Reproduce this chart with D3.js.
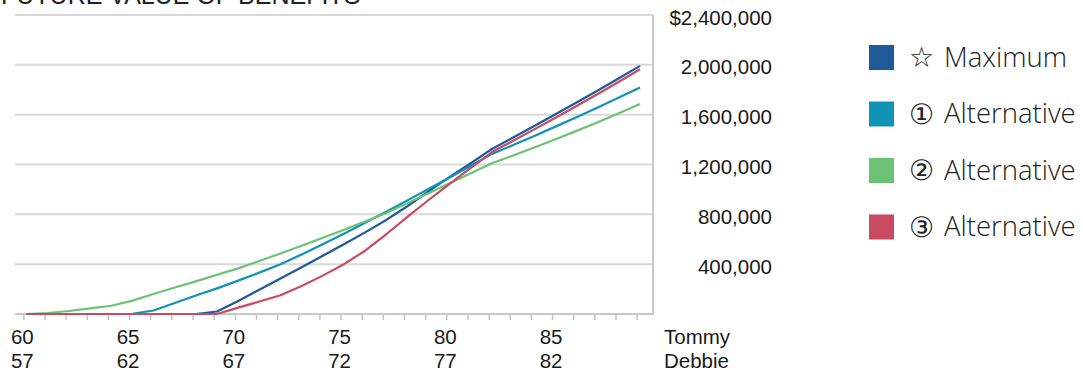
<!DOCTYPE html>
<html>
<head>
<meta charset="utf-8">
<script src="https://cdn.jsdelivr.net/npm/d3@7"></script>
<style>
  body { margin: 0; background: #fff; }
  svg { display: block; }
</style>
</head>
<body>
<div id="chart-area"></div>
<script>
// ages on the axis (Tommy / Debbie)
var tommyAges = [60, 61, 62, 63, 64, 65, 66, 67, 68, 69, 70, 71, 72, 73, 74, 75, 76, 77, 78, 79, 80, 81, 82, 83, 84, 85, 86, 87, 88, 89];
var labelAges = [60, 65, 70, 75, 80, 85];
var ageGap = 3; // Debbie is 3 years younger

var yTicks = [400000, 800000, 1200000, 1600000, 2000000, 2400000];

var seriesNames = ["Maximum", "Alternative", "Alternative", "Alternative"];
var seriesMarks = ["\u2606", "\u2460", "\u2461", "\u2462"];
var seriesColors = ["#1f5b98", "#1093b4", "#6cc273", "#c94a61"];

var maximum = [0, 0, 0, 0, 0, 0, 0, 0, 0, 20000, 105000, 195000, 285000, 375000, 467000, 560000, 655000, 755000, 865000, 985000, 1100000, 1210000, 1325000, 1416000, 1509000, 1603000, 1698000, 1794000, 1892000, 1992000];
var alt1 = [0, 0, 0, 0, 0, 2000, 28000, 88000, 148000, 206000, 268000, 332000, 400000, 478000, 560000, 645000, 732000, 820000, 912000, 1003000, 1095000, 1190000, 1285000, 1356000, 1429000, 1504000, 1580000, 1658000, 1738000, 1819000];
var alt2 = [0, 8000, 24000, 45000, 66000, 107000, 160000, 213000, 262000, 315000, 366000, 425000, 486000, 548000, 612000, 677000, 743000, 810000, 890000, 970000, 1050000, 1130000, 1210000, 1272000, 1336000, 1402000, 1470000, 1540000, 1612000, 1685000];
var alt3 = [0, 0, 0, 0, 0, 0, 0, 0, 0, 0, 51000, 100000, 150000, 225000, 308000, 400000, 508000, 640000, 780000, 915000, 1045000, 1172000, 1300000, 1390000, 1482000, 1575000, 1670000, 1766000, 1864000, 1965000];

var series = [maximum, alt1, alt2, alt3];

// payments counted a couple of months past each birthday
var monthOffset = 0.16;

var width = 1083, height = 373;
var plot = { left: 15, right: 653, top: 15, bottom: 314 };

var svg = d3.select("#chart-area").append("svg")
    .attr("width", width)
    .attr("height", height)
    .style("font-family", "'Liberation Sans', Arial, sans-serif");

var x = d3.scaleLinear()
    .domain([59.608, 89.773])
    .range([plot.left, plot.right]);

var y = d3.scaleLinear()
    .domain([0, 2400000])
    .range([plot.bottom, plot.top]);

// title (cut off at the top, as in the source)
svg.append("text")
    .attr("x", 1)
    .attr("y", 4)
    .attr("font-size", "25px")
    .attr("fill", "#222")
    .text("FUTURE VALUE OF BENEFITS");

// grid lines
svg.append("g").selectAll("line")
    .data(yTicks)
    .enter().append("line")
    .attr("x1", plot.left)
    .attr("x2", plot.right)
    .attr("y1", (d) => y(d))
    .attr("y2", (d) => y(d))
    .attr("stroke", "#d9d9d9")
    .attr("stroke-width", 2);

// y labels on the right
var yFormat = d3.format(",");
svg.append("g").selectAll("text")
    .data(yTicks)
    .enter().append("text")
    .attr("x", 772)
    .attr("y", (d) => y(d) + 9.5)
    .attr("text-anchor", "end")
    .attr("font-size", "20.5px")
    .attr("fill", "#1a1a1a")
    .text((d, i) => (i === yTicks.length - 1 ? "$" : "") + yFormat(d));

// x axis
var xAxisCall = d3.axisBottom(x)
    .tickValues(tommyAges)
    .tickSize(6)
    .tickFormat("");
var xAxisGroup = svg.append("g")
    .attr("transform", "translate(0," + plot.bottom + ")")
    .call(xAxisCall);
xAxisGroup.select(".domain").remove();
xAxisGroup.selectAll(".tick line")
    .attr("stroke", "#c4c4c4")
    .attr("stroke-width", 1.5);

// axis frame: baseline and right edge
svg.append("line")
    .attr("x1", plot.left).attr("x2", plot.right)
    .attr("y1", plot.bottom).attr("y2", plot.bottom)
    .attr("stroke", "#c8c8c8").attr("stroke-width", 2);
svg.append("line")
    .attr("x1", plot.right).attr("x2", plot.right)
    .attr("y1", plot.top).attr("y2", plot.bottom + 1)
    .attr("stroke", "#c8c8c8").attr("stroke-width", 2);

var labels = svg.append("g")
    .attr("font-size", "20.5px")
    .attr("fill", "#1a1a1a")
    .attr("text-anchor", "middle");

labels.selectAll(".tommy")
    .data(labelAges)
    .enter().append("text")
    .attr("class", "tommy")
    .attr("x", (d) => x(d) - 1)
    .attr("y", 344)
    .text((d) => d);

labels.selectAll(".debbie")
    .data(labelAges)
    .enter().append("text")
    .attr("class", "debbie")
    .attr("x", (d) => x(d) - 1)
    .attr("y", 368)
    .text((d) => d - ageGap);

labels.append("text")
    .attr("x", 664).attr("y", 344)
    .attr("text-anchor", "start")
    .text("Tommy");
labels.append("text")
    .attr("x", 664).attr("y", 368)
    .attr("text-anchor", "start")
    .text("Debbie");

// lines
var line = d3.line()
    .x((d, i) => x(tommyAges[i] + monthOffset))
    .y((d) => y(d));

svg.append("g").selectAll("path")
    .data(series)
    .enter().append("path")
    .attr("d", line)
    .attr("fill", "none")
    .attr("stroke", (d, i) => seriesColors[i])
    .attr("stroke-width", 2.2)
    .attr("stroke-linejoin", "round");

// legend
var legend = svg.append("g").selectAll("g")
    .data(seriesNames)
    .enter().append("g")
    .attr("transform", (d, i) => "translate(869," + (45 + i * 56.5) + ")");

legend.append("rect")
    .attr("width", 25)
    .attr("height", 25)
    .attr("fill", (d, i) => seriesColors[i]);

legend.append("text")
    .attr("x", 40)
    .attr("y", 22)
    .attr("font-family", "'DejaVu Sans', sans-serif")
    .attr("font-size", "28px")
    .attr("fill", "#222")
    .text((d, i) => seriesMarks[i]);

legend.append("text")
    .attr("x", 75)
    .attr("y", 21.7)
    .attr("font-family", "'Open Sans', 'Noto Sans', sans-serif")
    .attr("font-weight", 300)
    .attr("font-size", "27.5px")
    .attr("fill", "#222")
    .text((d) => d);
</script>
</body>
</html>
